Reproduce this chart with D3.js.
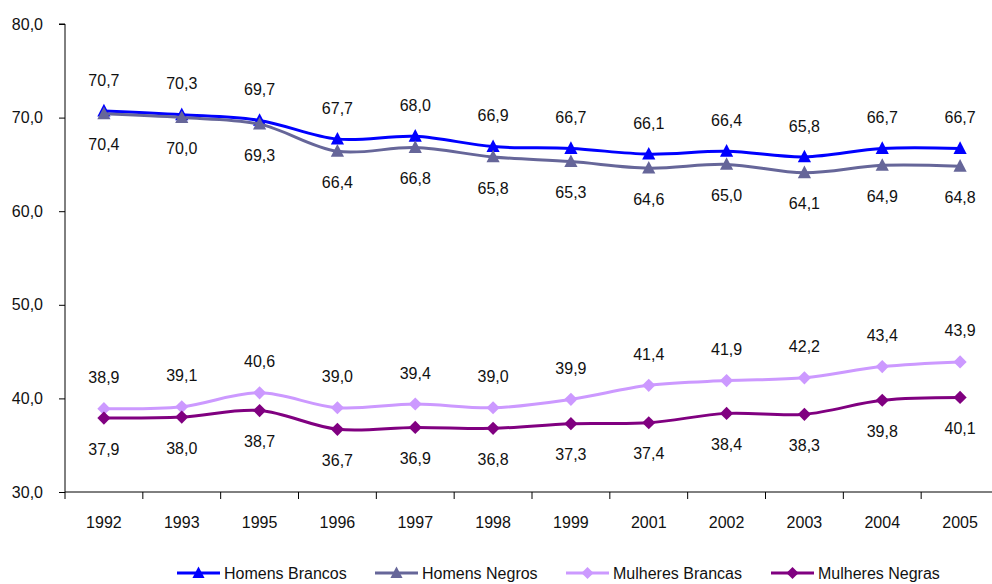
<!DOCTYPE html>
<html><head><meta charset="utf-8">
<script src="https://cdn.jsdelivr.net/npm/d3@7"></script>
<style>
body{margin:0;background:#fff;}
text{font-family:"Liberation Sans Narrow","Arial Narrow","Liberation Sans",sans-serif;fill:#111;}
</style></head>
<body><svg id="c" width="992" height="584"></svg>
<script>
const years = ["1992","1993","1995","1996","1997","1998","1999","2001","2002","2003","2004","2005"];
const homensBrancos = [70.7,70.3,69.7,67.7,68.0,66.9,66.7,66.1,66.4,65.8,66.7,66.7];
const homensNegros = [70.4,70.0,69.3,66.4,66.8,65.8,65.3,64.6,65.0,64.1,64.9,64.8];
const mulheresBrancas = [38.9,39.1,40.6,39.0,39.4,39.0,39.9,41.4,41.9,42.2,43.4,43.9];
const mulheresNegras = [37.9,38.0,38.7,36.7,36.9,36.8,37.3,37.4,38.4,38.3,39.8,40.1];
const yTicks = [30,40,50,60,70,80];

const series = [
  {name:"Homens Brancos", values:homensBrancos, color:"#0000FF", marker:"tri", label:"above"},
  {name:"Homens Negros", values:homensNegros, color:"#666699", marker:"tri", label:"below"},
  {name:"Mulheres Brancas", values:mulheresBrancas, color:"#CC99FF", marker:"dia", label:"above"},
  {name:"Mulheres Negras", values:mulheresNegras, color:"#800080", marker:"dia", label:"below"}
];

const svg = d3.select("#c");
const mLeft = 65, mRight = 999, mTop = 24, mBottom = 492;
const x = d3.scaleBand().domain(years).range([mLeft,mRight]);
const y = d3.scaleLinear().domain([30,80]).range([mBottom,mTop]);
const fmt = v => d3.format(".1f")(v).replace(".", ",");

// Y axis
const ya = svg.append("g").attr("transform",`translate(${mLeft},0)`)
  .call(d3.axisLeft(y).tickValues(yTicks).tickSize(6).tickPadding(16).tickFormat(fmt));
ya.select(".domain").attr("stroke","#000").attr("d",`M-6,${mTop}H0V${mBottom}`);
ya.selectAll("line").attr("stroke","#000");
ya.selectAll("text").attr("font-size",16).attr("fill","#111");

// X axis
const xa = svg.append("g").attr("transform",`translate(0,${mBottom})`)
  .call(d3.axisBottom(x).tickSize(0).tickPadding(25));
xa.select(".domain").attr("stroke","#000").attr("d",`M${mLeft},0H${mRight}`);
xa.selectAll("text").attr("font-size",16).attr("fill","#111");
const bounds = years.map(d=>x(d)).concat([mRight]);
svg.append("g").selectAll("line").data(bounds).join("line")
  .attr("x1",d=>d).attr("x2",d=>d).attr("y1",mBottom).attr("y2",mBottom+7).attr("stroke","#000");

const cx = d => x(d)+x.bandwidth()/2;
const line = d3.line().x((v,i)=>cx(years[i])).y(v=>y(v)).curve(d3.curveCatmullRom.alpha(0.5));

function marker(g, type, color, size){
  if(type==="tri"){
    g.append("path").attr("d",`M0,${-size*0.6}L${size*0.55},${size*0.45}L${-size*0.55},${size*0.45}Z`).attr("fill",color);
  } else {
    g.append("path").attr("d",`M0,${-size*0.55}L${size*0.55},0L0,${size*0.55}L${-size*0.55},0Z`).attr("fill",color);
  }
}

series.forEach(s=>{
  svg.append("path").attr("d",line(s.values)).attr("fill","none").attr("stroke",s.color).attr("stroke-width",3);
  s.values.forEach((v,i)=>{
    const g = svg.append("g").attr("transform",`translate(${cx(years[i])},${y(v)})`);
    marker(g,s.marker,s.color,12);
  });
});
series.forEach(s=>{
  svg.append("g").selectAll("text").data(s.values).join("text")
    .attr("x",(v,i)=>cx(years[i]))
    .attr("y",v=> s.label==="above" ? y(v)-31 : y(v)+31)
    .attr("dy","0.35em")
    .attr("text-anchor","middle").attr("font-size",16)
    .text(fmt);
});

// Legend
const legX = [177,375,566,771];
const legY = 573;
series.forEach((s,i)=>{
  const g = svg.append("g").attr("transform",`translate(${legX[i]},${legY})`);
  g.append("line").attr("x1",0).attr("x2",43).attr("stroke",s.color).attr("stroke-width",3);
  const m = g.append("g").attr("transform","translate(21.5,0)");
  marker(m,s.marker,s.color,11);
  g.append("text").attr("x",47).attr("dy","0.35em").attr("font-size",16).text(s.name);
});
</script></body></html>
